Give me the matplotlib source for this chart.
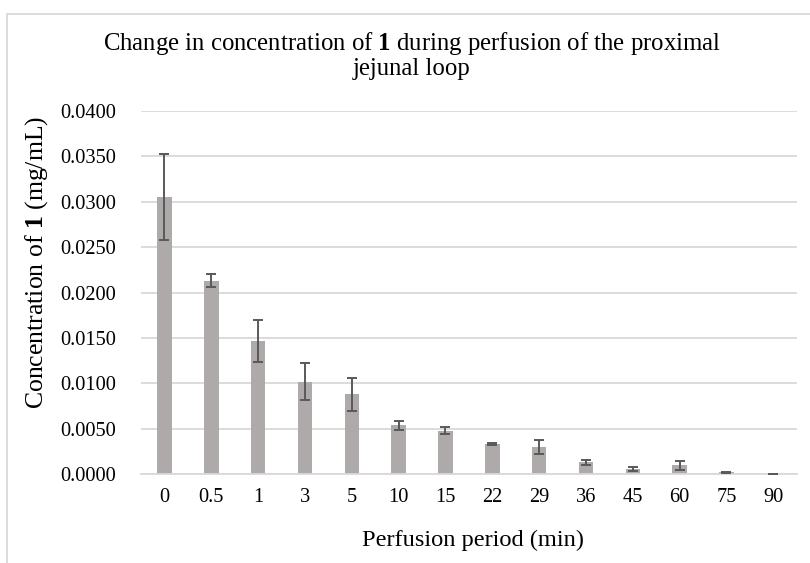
import matplotlib.pyplot as plt
from matplotlib.patches import Rectangle

# perfusion time points (min) and mean concentration of compound 1 (mg/mL)
times = ['0', '0.5', '1', '3', '5', '10', '15', '22', '29', '36', '45', '60', '75', '90']
conc = [0.0305, 0.0213, 0.0147, 0.0102, 0.0088, 0.0054, 0.0048,
        0.0033, 0.0030, 0.0013, 0.0006, 0.0010, 0.0002, 0.00005]
err = [0.0047, 0.0007, 0.0023, 0.0020, 0.0018, 0.0005, 0.0004,
       0.0001, 0.0008, 0.00025, 0.0002, 0.0005, 0.0001, 0.00003]

plt.rcParams['font.family'] = ['Liberation Serif', 'DejaVu Serif']
plt.rcParams['mathtext.fontset'] = 'custom'
plt.rcParams['mathtext.rm'] = 'Liberation Serif'
plt.rcParams['mathtext.bf'] = 'Liberation Serif:bold'

W, H = 810, 563
fig = plt.figure(figsize=(W / 100, H / 100), dpi=100)
ax = fig.add_axes([141 / W, 1 - 474.3 / H, (796.7 - 141) / W, (474.3 - 110.7) / H])

x = range(len(times))
ax.bar(x, conc, width=0.31, color='#aeaaaa', zorder=2)
ax.errorbar(x, conc, yerr=err, fmt='none', ecolor='#595959', elinewidth=1.4,
            capsize=3.8, capthick=1.4, zorder=3)

ax.set_xlim(-0.5, len(times) - 0.5)
ax.set_ylim(0, 0.04)
ax.set_yticks([i * 0.005 for i in range(9)])
ax.set_yticklabels([f'{i * 0.005:.4f}' for i in range(9)])
ax.set_xticks(list(x))
ax.set_xticklabels(times)
ax.tick_params(length=0, labelsize=14.7, colors='#000000')
ax.tick_params(axis='y', pad=18)
ax.tick_params(axis='x', pad=10)
ax.grid(axis='y', color='#d9d9d9', linewidth=1.3, zorder=0)
for s in ['top', 'right', 'left']:
    ax.spines[s].set_visible(False)
ax.spines['bottom'].set_color('#d9d9d9')
ax.spines['bottom'].set_linewidth(1.3)

# axis titles and chart title placed like the Excel original
fig.text(473 / W, 1 - 540 / H, 'Perfusion period (min)', fontsize=17.6,
         ha='center', va='center')
fig.text(37 / W, 1 - 262.5 / H, r'Concentration of $\mathbf{1}$ (mg/mL)', fontsize=18.5,
         rotation=90, ha='center', va='center')
fig.text(412 / W, 1 - 30 / H,
         'Change in concentration of $\\mathbf{1}$ during perfusion of the proximal\njejunal loop',
         fontsize=17.8, ha='center', va='top', multialignment='center', linespacing=1.05)

# outer chart border
fig.patches.append(Rectangle((7 / W, -0.01), 1.0, 1 - 13.5 / H + 0.01,
                             transform=fig.transFigure, fill=False,
                             edgecolor='#d9d9d9', linewidth=1.3))

fig.savefig('out.png', dpi=100)
